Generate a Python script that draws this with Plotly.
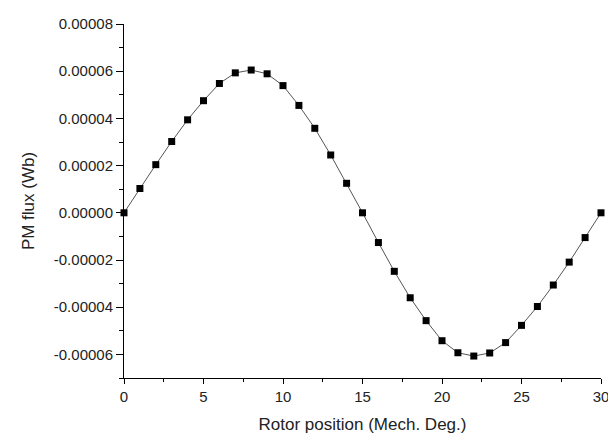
import plotly.graph_objects as go

rotor_position = list(range(0, 31))
pm_flux = [
    0.0, 1.03e-5, 2.04e-5, 3.02e-5, 3.94e-5, 4.75e-5, 5.48e-5, 5.93e-5, 6.05e-5, 5.89e-5,
    5.39e-5, 4.55e-5, 3.58e-5, 2.45e-5, 1.25e-5, 0.0, -1.26e-5, -2.48e-5, -3.6e-5, -4.57e-5,
    -5.42e-5, -5.93e-5, -6.07e-5, -5.94e-5, -5.5e-5, -4.77e-5, -3.97e-5, -3.06e-5, -2.09e-5, -1.05e-5,
    0.0,
]
x_ticks = [0, 5, 10, 15, 20, 25, 30]
x_labels = ["0", "5", "10", "15", "20", "25", "30"]
y_ticks = [-0.00006, -0.00004, -0.00002, 0.0, 0.00002, 0.00004, 0.00006, 0.00008]
y_labels = ["-0.00006", "-0.00004", "-0.00002", "0.00000", "0.00002", "0.00004", "0.00006", "0.00008"]

fig = go.Figure()
fig.add_trace(go.Scatter(
    x=rotor_position, y=pm_flux, mode="lines+markers",
    line=dict(color="#555555", width=1),
    marker=dict(symbol="square", size=7, color="black"),
    cliponaxis=False, showlegend=False,
))

font = dict(family="Liberation Sans, Arial, sans-serif", size=15, color="#222222")
fig.update_layout(
    width=608, height=436,
    margin=dict(l=124, r=7, t=24, b=58, autoexpand=False),
    paper_bgcolor="white", plot_bgcolor="white",
    font=font,
    xaxis=dict(
        range=[0, 30.0001], tickvals=x_ticks, ticktext=x_labels, showgrid=False, zeroline=False,
        showline=True, linecolor="black", linewidth=1, automargin=False,
        ticks="outside", ticklen=5, tickcolor="black", ticklabeloverflow="allow",
        minor=dict(tickvals=[2.5, 7.5, 12.5, 17.5, 22.5, 27.5], ticks="outside", ticklen=3, tickcolor="black"),
        title=dict(text="Rotor position (Mech. Deg.)", font=dict(size=17), standoff=14),
        tickfont=dict(size=15),
    ),
    yaxis=dict(
        range=[-0.00007, 0.00008], tickvals=y_ticks, ticktext=y_labels,
        showgrid=False, zeroline=False, automargin=False,
        showline=True, linecolor="black", linewidth=1,
        ticks="outside", ticklen=7, tickcolor="black",
        minor=dict(dtick=0.00001, tick0=0, ticks="outside", ticklen=4, tickcolor="black"),
        title=dict(text="PM flux (Wb)", font=dict(size=17), standoff=14),
        tickfont=dict(size=15),
    ),
)
fig.write_html("out.html")
